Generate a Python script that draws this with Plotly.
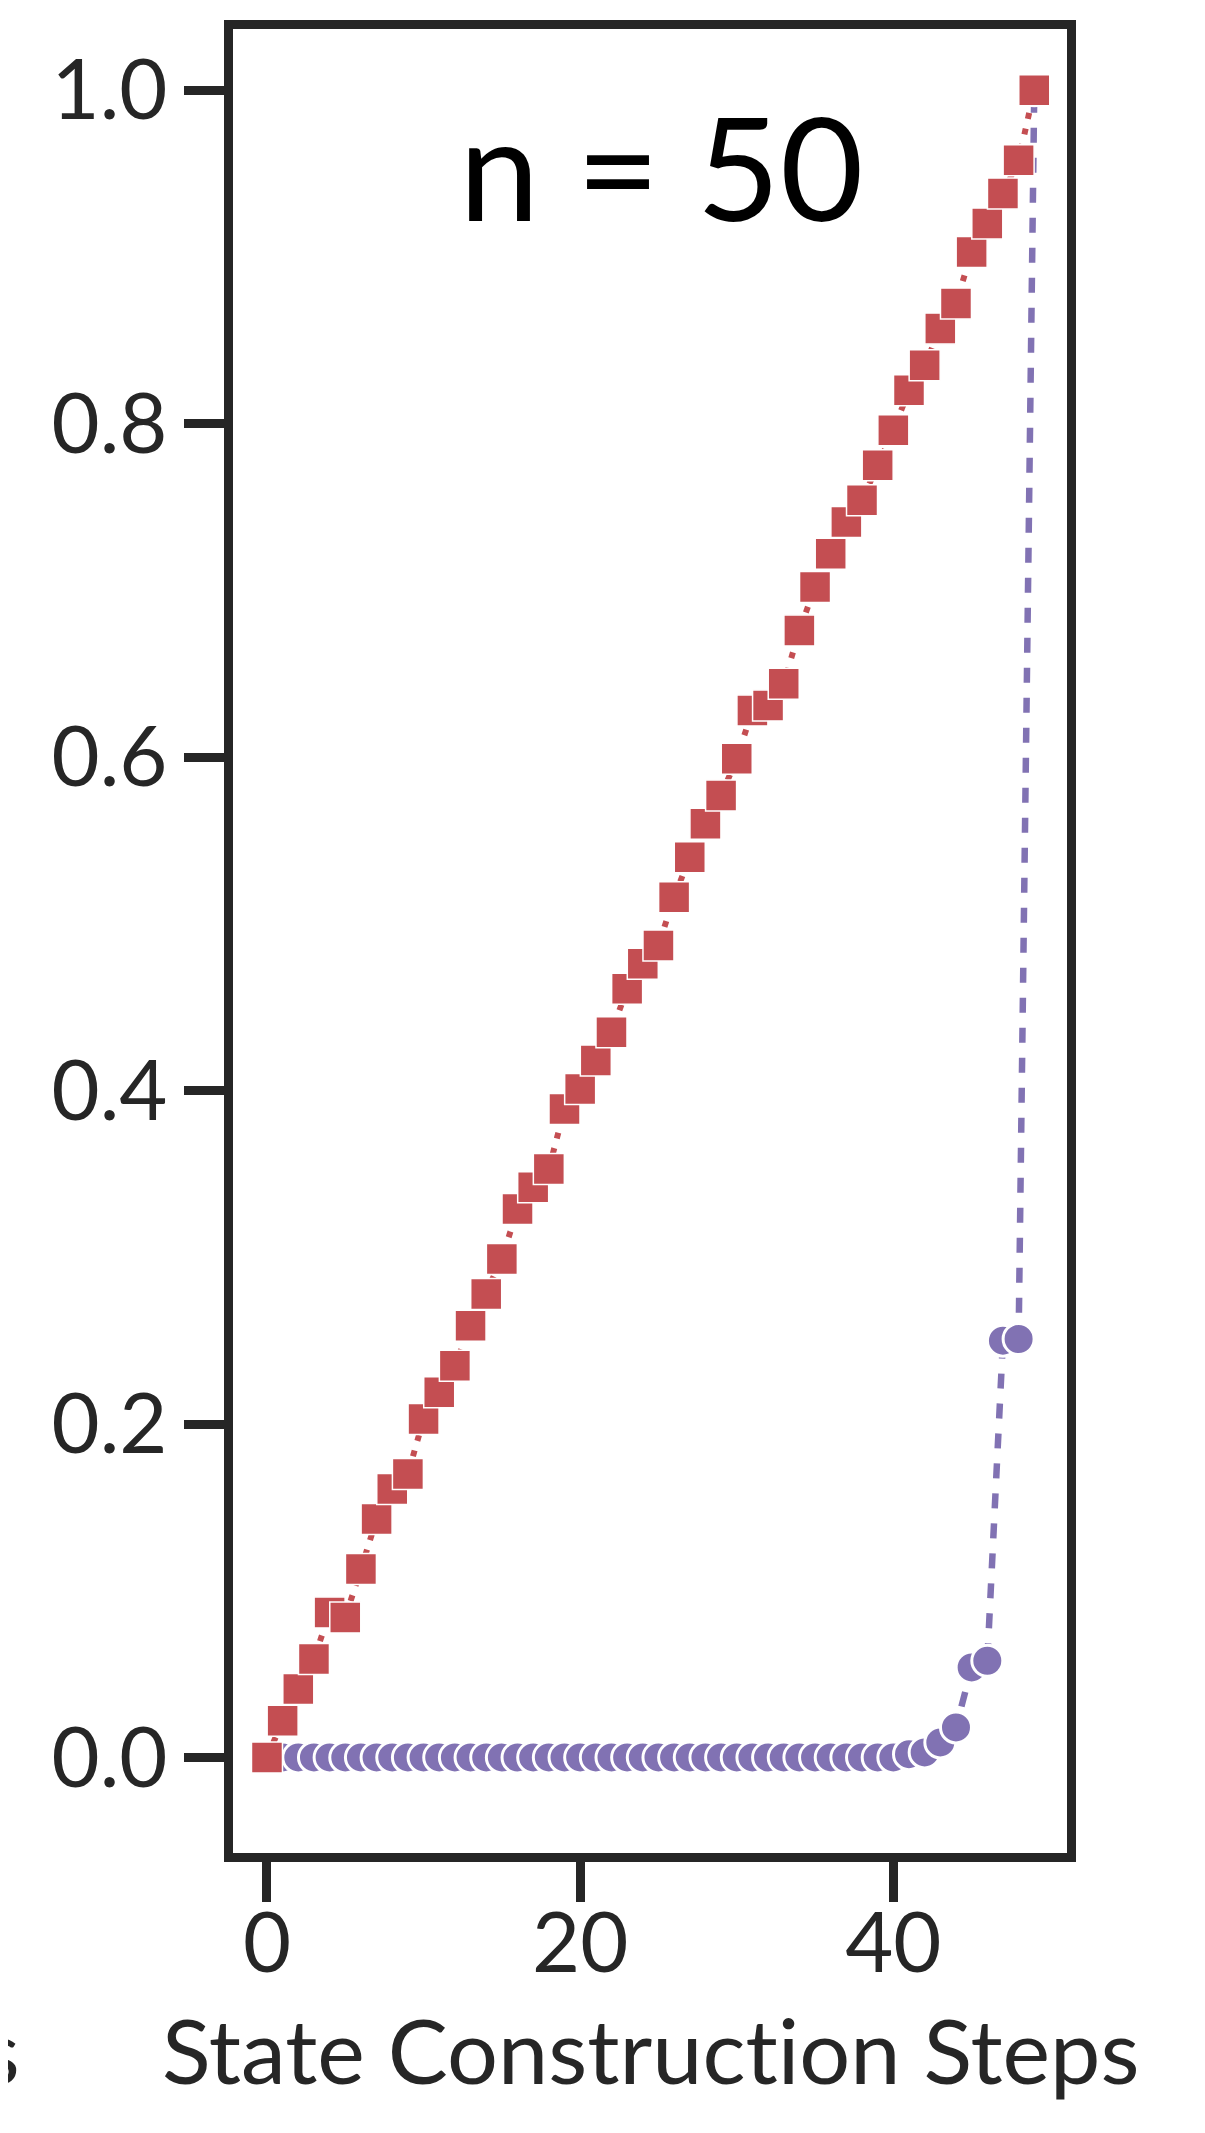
import plotly.graph_objects as go

# state construction steps 0..49
steps = list(range(50))

# red squares: roughly linear growth
red_vals = [
    0.000, 0.022, 0.041, 0.059, 0.087, 0.084, 0.113, 0.143, 0.161, 0.170,
    0.203, 0.219, 0.235, 0.259, 0.278, 0.299, 0.329, 0.342, 0.353, 0.389,
    0.401, 0.418, 0.435, 0.461, 0.476, 0.487, 0.516, 0.540, 0.560, 0.577,
    0.599, 0.628, 0.631, 0.644, 0.676, 0.702, 0.722, 0.741, 0.754, 0.775,
    0.796, 0.820, 0.835, 0.857, 0.872, 0.903, 0.920, 0.938, 0.958, 1.000,
]

# purple circles: flat then sharp rise at the end
purple_vals = [0.0] * 41 + [0.002, 0.003, 0.009, 0.018, 0.054, 0.058, 0.250, 0.251, 1.000]

x_ticks = [0, 20, 40]
y_ticks = [0.0, 0.2, 0.4, 0.6, 0.8, 1.0]

RED = "#C44E52"
PURPLE = "#8172B3"
INK = "#262626"
FONT = "Lato"

fig = go.Figure()
fig.add_trace(
    go.Scatter(
        x=steps,
        y=purple_vals,
        mode="lines+markers",
        line=dict(color=PURPLE, width=6.5, dash="15px,15px"),
        marker=dict(symbol="circle", size=31, color=PURPLE, line=dict(color="white", width=3)),
        showlegend=False,
    )
)
fig.add_trace(
    go.Scatter(
        x=steps,
        y=red_vals,
        mode="lines+markers",
        line=dict(color=RED, width=6, dash="6px,10px"),
        marker=dict(symbol="square", size=31, color=RED, line=dict(color="white", width=1.5)),
        showlegend=False,
    )
)

fig.add_annotation(
    x=25.2, y=0.955, xref="x", yref="y",
    text="n = 50", showarrow=False,
    font=dict(family=FONT, size=144, color="black"),
    xanchor="center", yanchor="middle",
)
# zero-width non-joiner keeps Lato from fusing "ti" into a ligature
fig.add_annotation(
    x=0.5, y=-0.1075, xref="paper", yref="paper",
    text="State Construct\u200cion Steps", showarrow=False,
    font=dict(family=FONT, size=90, color=INK),
    xanchor="center", yanchor="middle",
)
# tail of the neighbouring panel's label, cut by the page edge
fig.add_annotation(
    x=-0.2524, y=-0.1075, xref="paper", yref="paper",
    text="Steps", showarrow=False,
    font=dict(family=FONT, size=90, color=INK),
    xanchor="right", yanchor="middle",
)

# page body adds an 8px margin, so the figure is a bit smaller than the window
fig.update_layout(
    width=1189,
    height=2117,
    margin=dict(l=225, r=130, t=13, b=272),
    paper_bgcolor="white",
    plot_bgcolor="white",
    font=dict(family=FONT, color=INK),
)
fig.update_xaxes(
    range=[-2.17, 51.09],
    tickvals=x_ticks,
    showgrid=False, zeroline=False,
    showline=True, mirror=True, linewidth=9, linecolor=INK,
    ticks="outside", ticklen=40, tickwidth=9, tickcolor=INK,
    tickfont=dict(family=FONT, size=83, color=INK),
    ticklabelstandoff=-30,
)
fig.update_yaxes(
    range=[-0.0573, 1.0367],
    tickvals=y_ticks,
    tickformat=".1f",
    showgrid=False, zeroline=False,
    showline=True, mirror=True, linewidth=9, linecolor=INK,
    ticks="outside", ticklen=40, tickwidth=9, tickcolor=INK,
    tickfont=dict(family=FONT, size=83, color=INK),
)

fig.write_html("out.html")
